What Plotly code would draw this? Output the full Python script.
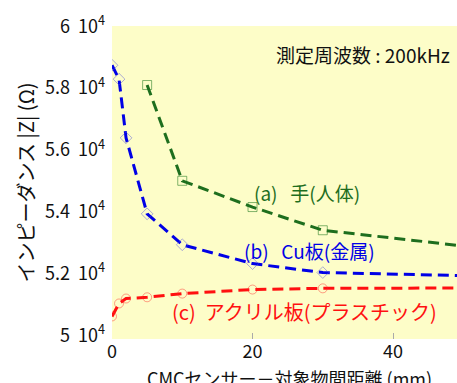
import plotly.graph_objects as go

# Sensor-to-object distance (mm)
distance = [0, 1, 2, 5, 10, 20, 30, 50]
distance_hand = [5, 10, 20, 30, 50]

# Impedance |Z| (ohm) at 200 kHz
z_hand = [58100, 55000, 54150, 53400, 52890]
z_copper = [58740, 58290, 56390, 53930, 52930, 52320, 52030, 51930]
z_acrylic = [50610, 51030, 51190, 51230, 51350, 51480, 51520, 51530]

NB = "\u00a0"
y_ticks = [50000, 52000, 54000, 56000, 58000, 60000]
y_tick_text = [f"{m}{NB}{NB}10<sup>4</sup>" for m in ["5", "5.2", "5.4", "5.6", "5.8", "6"]]
x_ticks = [0, 20, 40]

FONT = "Noto Sans CJK JP"
GREEN = "#1e6e1e"
BLUE = "#0000e6"
RED = "#ff1010"

# plot-area geometry in pixels
W, H = 457, 383
L, R, T, B = 112, 0, 26, 44
PW, PH = W - L - R, H - T - B

fig = go.Figure()


def add_series(x, y, color, symbol, marker_color):
    fig.add_trace(go.Scatter(
        x=x, y=y, mode="lines+markers",
        line=dict(color=color, width=3, dash="11px,6px"),
        marker=dict(symbol=symbol, size=9, color=marker_color,
                    line=dict(color=marker_color, width=1)),
        showlegend=False,
    ))


add_series(distance_hand, z_hand, GREEN, "square-open", "rgba(30,120,30,0.55)")
add_series(distance, z_copper, BLUE, "diamond-open", "rgba(70,70,220,0.45)")
add_series(distance, z_acrylic, RED, "circle-open", "rgba(255,40,40,0.45)")

annotations = [
    dict(x=452, y=54, text=f"測定周波数{NB}:{NB}200kHz", color="#111111", xanchor="right", size=19),
    dict(x=252, y=192, text=f"(a){NB}{NB}{NB}手(人体)", color=GREEN, xanchor="left", size=19),
    dict(x=242, y=250, text=f"(b){NB}{NB}{NB}Cu板(金属)", color=BLUE, xanchor="left", size=19),
    dict(x=170, y=311, text=f"(c){NB}{NB}アクリル板(プラスチック)", color=RED, xanchor="left", size=20),
    # x-axis title, sitting low at the bottom edge
    dict(x=289, y=378, text="CMCセンサー－対象物間距離 (mm)", color="#111111", xanchor="center", size=18),
]
for a in annotations:
    fig.add_annotation(
        x=(a["x"] - L) / PW, y=(H - B - a["y"]) / PH, xref="paper", yref="paper",
        text=a["text"], showarrow=False, xanchor=a["xanchor"], yanchor="middle",
        font=dict(family=FONT, size=a["size"], color=a["color"]),
    )

fig.update_layout(
    width=W, height=H,
    margin=dict(l=L, r=R, t=T, b=B),
    paper_bgcolor="white",
    plot_bgcolor="#fdfdc8",
    font=dict(family=FONT, size=16, color="#111111"),
    xaxis=dict(
        range=[0, 49.1], tickvals=x_ticks, ticks="inside", ticklen=6,
        tickcolor="#aaaaaa", showgrid=False, zeroline=False, showline=False,
        tickfont=dict(size=18), automargin=False,
    ),
    yaxis=dict(
        range=[49880, 60010], tickvals=y_ticks, ticktext=y_tick_text,
        ticks="", showgrid=False, zeroline=False, showline=False,
        tickfont=dict(size=18), ticklabelstandoff=6, automargin=False,
        title=dict(text="インピーダンス |Z| (Ω)", font=dict(size=20), standoff=4),
    ),
)

fig.write_html("out.html")
